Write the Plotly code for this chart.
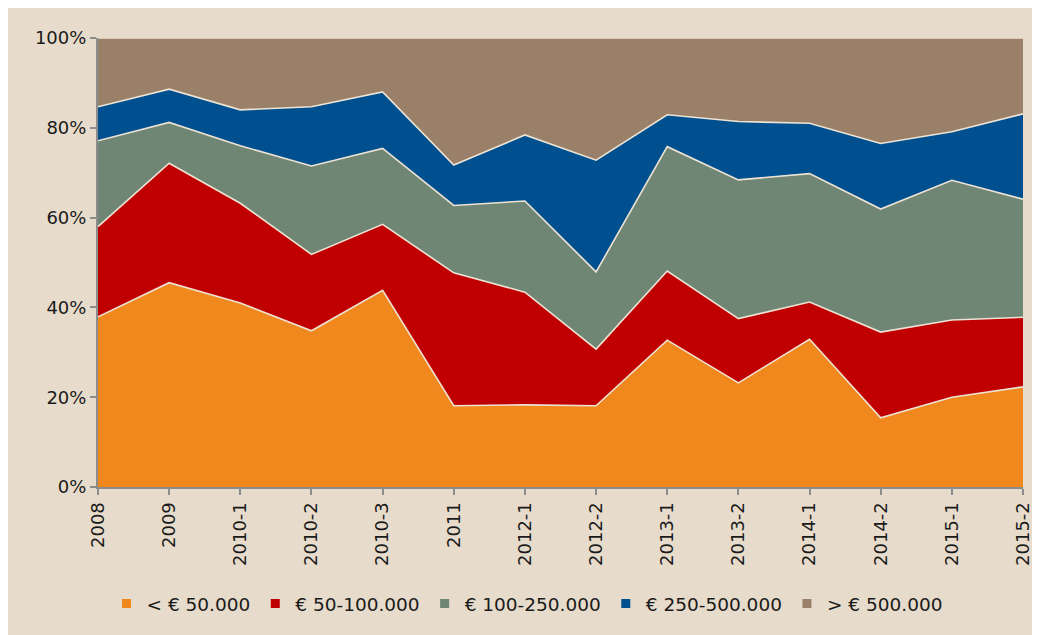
import plotly.graph_objects as go

categories = ["2008", "2009", "2010-1", "2010-2", "2010-3", "2011", "2012-1", "2012-2",
              "2013-1", "2013-2", "2014-1", "2014-2", "2015-1", "2015-2"]
lt_50k = [37.9, 45.5, 41.0, 34.8, 43.8, 18.1, 18.3, 18.1, 32.7, 23.2, 32.9, 15.4, 20.0, 22.3]
k50_100 = [20.1, 26.6, 22.2, 17.0, 14.7, 29.6, 25.1, 12.6, 15.4, 14.3, 8.3, 19.1, 17.2, 15.5]
k100_250 = [19.1, 9.1, 12.8, 19.7, 16.9, 15.0, 20.3, 17.2, 27.7, 30.9, 28.6, 27.4, 31.1, 26.3]
k250_500 = [7.6, 7.4, 8.0, 13.2, 12.6, 9.0, 14.7, 24.9, 7.1, 13.0, 11.2, 14.6, 10.8, 19.0]
gt_500k = [15.3, 11.4, 16.0, 15.3, 12.0, 28.3, 21.6, 27.2, 17.1, 18.6, 19.0, 23.5, 20.9, 16.9]

series_names = ["< € 50.000", "€ 50-100.000", "€ 100-250.000", "€ 250-500.000", "> € 500.000"]
series_values = [lt_50k, k50_100, k100_250, k250_500, gt_500k]
colors = ["#F0881E", "#C00000", "#708675", "#004F8F", "#9A8068"]

BG = "#E7DCCB"
FONT = "DejaVu Sans, Verdana, sans-serif"

fig = go.Figure()
for name, vals, col in zip(series_names, series_values, colors):
    fig.add_trace(go.Scatter(
        x=categories, y=vals, name=name, mode="lines", stackgroup="one",
        groupnorm="percent", line=dict(color="#EDE3D4", width=1.6),
        fillcolor=col, showlegend=False, hoverinfo="x+y+name",
    ))
# legend entries with square markers
for name, col in zip(series_names, colors):
    fig.add_trace(go.Scatter(
        x=[None], y=[None], name=name, mode="markers",
        marker=dict(symbol="square", size=9, color=col, line=dict(width=0)),
        showlegend=True,
    ))

W, H = 1032, 627
fig.update_layout(
    width=W, height=H,
    paper_bgcolor=BG, plot_bgcolor="white",
    margin=dict(l=90, r=W - 1015, t=30, b=H - 479, autoexpand=False),
    font=dict(family=FONT, size=18, color="#1a1a1a"),
    showlegend=True,
    legend=dict(orientation="h", x=519 / W, xref="container", xanchor="center",
                y=(H - 596) / H, yref="container", yanchor="middle",
                font=dict(size=18.5), itemwidth=30, bgcolor="rgba(0,0,0,0)",
                traceorder="normal"),
)
fig.update_xaxes(
    type="category", range=[0, len(categories) - 1], tickangle=-90,
    showline=True, linecolor="#8C8C8C", linewidth=2,
    ticks="outside", ticklen=6, tickcolor="#8C8C8C", tickwidth=2,
    showgrid=False, zeroline=False, tickfont=dict(size=18), automargin=False,
)
fig.update_yaxes(
    range=[0, 100], tickvals=[0, 20, 40, 60, 80, 100],
    ticktext=["0%", "20%", "40%", "60%", "80%", "100%"],
    showline=True, linecolor="#8C8C8C", linewidth=2,
    ticks="outside", ticklen=6, tickcolor="#8C8C8C", tickwidth=2,
    showgrid=True, gridcolor="#C8BEB0", gridwidth=1, zeroline=False,
    tickfont=dict(size=18), automargin=False,
)
fig.write_html("out.html")
